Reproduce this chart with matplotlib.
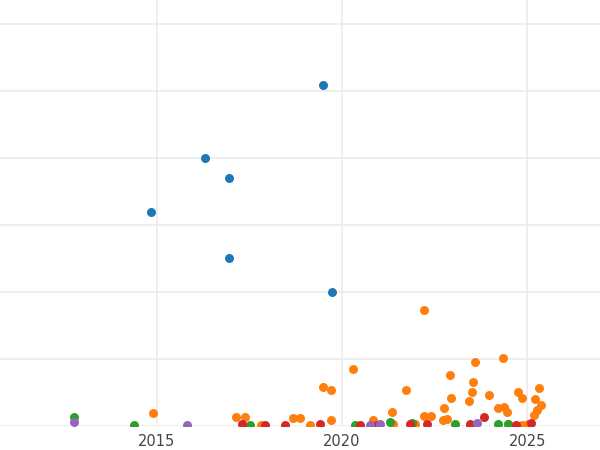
import matplotlib
matplotlib.use("Agg")
import matplotlib.pyplot as plt

# series values (year, value)
blue_x = [2019.49, 2016.30, 2016.95, 2014.84, 2016.95, 2019.73]
blue_y = [5.09, 4.00, 3.70, 3.19, 2.51, 2.00]

orange_x = [2022.22, 2020.30, 2024.35, 2023.60, 2022.92, 2023.54, 2019.49, 2019.70, 2021.73,
            2025.33, 2023.52, 2023.98, 2024.76, 2024.87, 2022.95, 2023.44, 2025.22, 2025.38,
            2022.76, 2024.22, 2024.38, 2024.46, 2025.27, 2025.19, 2021.35, 2014.90, 2017.14,
            2017.38, 2018.68, 2018.87, 2019.70, 2020.84, 2022.22, 2022.41, 2022.73, 2022.84,
            2017.80, 2019.14, 2021.38, 2021.97, 2023.46, 2024.49, 2024.87, 2025.03]
orange_y = [1.73, 0.85, 1.01, 0.96, 0.76, 0.66, 0.58, 0.54, 0.54,
            0.57, 0.51, 0.46, 0.51, 0.42, 0.42, 0.37, 0.40, 0.31,
            0.27, 0.27, 0.28, 0.21, 0.24, 0.16, 0.21, 0.19, 0.13,
            0.13, 0.12, 0.12, 0.09, 0.09, 0.15, 0.15, 0.09, 0.10,
            0.01, 0.01, 0.03, 0.03, 0.01, 0.03, 0.01, 0.03]

green_x = [2012.76, 2014.38, 2017.52, 2020.35, 2021.30, 2021.89, 2024.22, 2023.06, 2024.49]
green_y = [0.13, 0.01, 0.01, 0.01, 0.06, 0.04, 0.03, 0.03, 0.03]

red_x = [2023.84, 2017.30, 2017.92, 2018.46, 2019.41, 2020.49, 2020.95, 2021.84, 2022.30,
         2023.46, 2024.71, 2025.11]
red_y = [0.13, 0.03, 0.01, 0.01, 0.03, 0.01, 0.01, 0.03, 0.03, 0.03, 0.01, 0.04]

purple_x = [2012.76, 2015.80, 2021.03, 2023.65, 2020.76]
purple_y = [0.06, 0.01, 0.03, 0.04, 0.01]

fig = plt.figure(figsize=(6, 4.5), dpi=100)
ax = fig.add_axes([0, 0.0533, 1, 0.9467])

series = [(blue_x, blue_y, "#1f77b4"), (orange_x, orange_y, "#ff7f0e"),
          (green_x, green_y, "#2ca02c"), (red_x, red_y, "#d62728"),
          (purple_x, purple_y, "#9467bd")]
for xs, ys, c in series:
    ax.scatter(xs, ys, s=42, color=c, zorder=3, linewidths=0)

ax.set_xlim(2010.76, 2026.97)
ax.set_ylim(0, 6.36)
ax.set_xticks([2015, 2020, 2025])
ax.set_yticks(range(0, 7))
ax.set_yticklabels([])
ax.grid(True, color="#ebebeb", lw=1.2)
ax.set_axisbelow(True)
for s in ax.spines.values():
    s.set_visible(False)
ax.tick_params(length=0, labelsize=10.5, labelcolor="#444444", pad=6)

fig.savefig("out.png", dpi=100)
